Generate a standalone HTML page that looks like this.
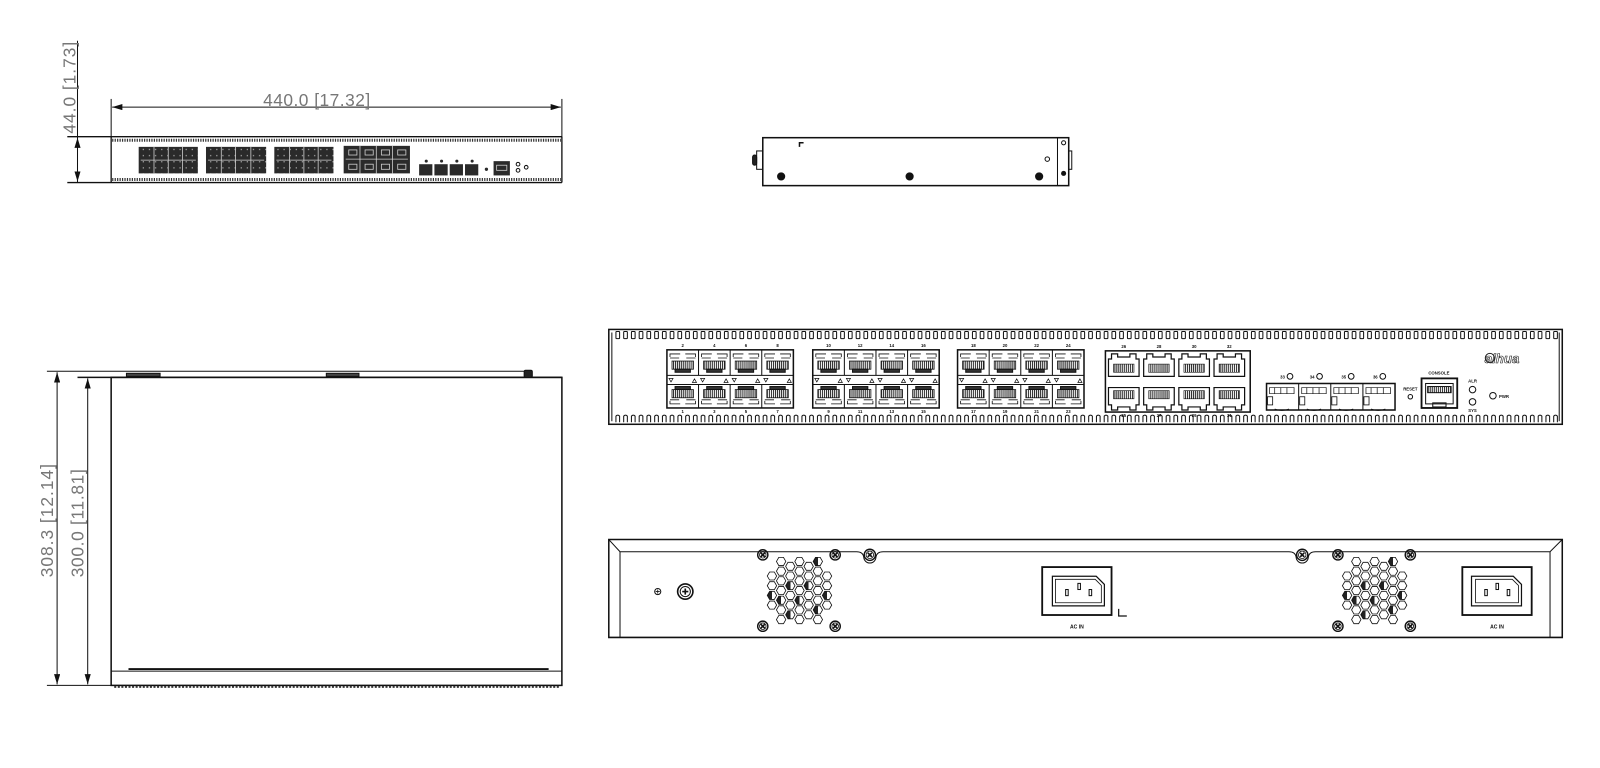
<!DOCTYPE html>
<html><head><meta charset="utf-8"><style>
html,body{margin:0;padding:0;background:#fff;width:1600px;height:768px;overflow:hidden}
svg{display:block}
text{font-family:"Liberation Sans",sans-serif}
</style></head><body>
<svg id="s" width="1600" height="768" viewBox="0 0 1569 753" preserveAspectRatio="none" xmlns="http://www.w3.org/2000/svg">
<defs>
<pattern id="hat" width="2" height="4" patternUnits="userSpaceOnUse"><rect width="2" height="4" fill="#fff"/><rect width="1" height="4" fill="#222"/></pattern>
<pattern id="dk" width="6" height="6" patternUnits="userSpaceOnUse"><rect width="6" height="6" fill="#2a2a2a"/><rect x="2" y="2" width="1.2" height="1.2" fill="#aaa"/></pattern>
<linearGradient id="half" x1="0" y1="0" x2="1" y2="0"><stop offset="0.5" stop-color="#222"/><stop offset="0.5" stop-color="#fff"/></linearGradient>
<marker id="ar" viewBox="0 0 10 6" refX="10" refY="3" markerWidth="10" markerHeight="6" orient="auto-start-reverse" markerUnits="userSpaceOnUse"><path d="M0,0L10,3L0,6z" fill="#111"/></marker>
</defs>
<g id="root" fill="none" stroke="#111" stroke-width="1">
<line x1="109" y1="97" x2="109" y2="135"/>
<line x1="551" y1="97" x2="551" y2="135"/>
<line x1="110" y1="105" x2="550" y2="105" marker-start="url(#ar)" marker-end="url(#ar)"/>
<line x1="66" y1="134" x2="551" y2="134" stroke-width="1.3"/>
<line x1="66" y1="179" x2="551" y2="179" stroke-width="1.3"/>
<line x1="109" y1="134" x2="109" y2="179" stroke-width="1.3"/>
<line x1="551" y1="134" x2="551" y2="179" stroke-width="1.3"/>
<line x1="76" y1="40" x2="76" y2="179"/>
<line x1="76" y1="160" x2="76" y2="135" marker-end="url(#ar)"/>
<line x1="76" y1="160" x2="76" y2="178" marker-end="url(#ar)"/>
<line x1="110" y1="137.5" x2="550" y2="137.5" stroke-width="3" stroke-dasharray="1.2 1.2" stroke="#333"/>
<line x1="110" y1="176" x2="550" y2="176" stroke-width="3" stroke-dasharray="1.2 1.2" stroke="#333"/>
<g fill="url(#dk)" stroke="none">
<rect x="136" y="144" width="58" height="26"/><rect x="202" y="144" width="59" height="26"/><rect x="269" y="144" width="58" height="26"/>
</g>
<g fill="#2a2a2a" stroke="none">
<rect x="337" y="143" width="65" height="27"/>
<rect x="411" y="161" width="13" height="11"/><rect x="426" y="161" width="13" height="11"/><rect x="441" y="161" width="13" height="11"/><rect x="456" y="161" width="13" height="11"/>
<circle cx="418" cy="158" r="1.5"/><circle cx="433" cy="158" r="1.5"/><circle cx="448" cy="158" r="1.5"/><circle cx="463" cy="158" r="1.5"/>
<circle cx="477" cy="166" r="1.6"/>
<rect x="484" y="158" width="16" height="14"/>
</g>
<g stroke="#ccc" stroke-width="0.8">
<line x1="138" y1="157" x2="192" y2="157"/><line x1="204" y1="157" x2="259" y2="157"/><line x1="271" y1="157" x2="325" y2="157"/>
<line x1="151" y1="144" x2="151" y2="170"/><line x1="165" y1="144" x2="165" y2="170"/><line x1="179" y1="144" x2="179" y2="170"/>
<line x1="217" y1="144" x2="217" y2="170"/><line x1="231" y1="144" x2="231" y2="170"/><line x1="246" y1="144" x2="246" y2="170"/>
<line x1="284" y1="144" x2="284" y2="170"/><line x1="298" y1="144" x2="298" y2="170"/><line x1="312" y1="144" x2="312" y2="170"/>
<line x1="339" y1="156" x2="400" y2="156"/><line x1="353" y1="143" x2="353" y2="170"/><line x1="369" y1="143" x2="369" y2="170"/><line x1="385" y1="143" x2="385" y2="170"/>
<rect x="342" y="147" width="8" height="5"/><rect x="358" y="147" width="8" height="5"/><rect x="374" y="147" width="8" height="5"/><rect x="390" y="147" width="8" height="5"/>
<rect x="342" y="161" width="8" height="5"/><rect x="358" y="161" width="8" height="5"/><rect x="374" y="161" width="8" height="5"/><rect x="390" y="161" width="8" height="5"/>
<rect x="487" y="162" width="10" height="5"/>
</g>
<circle cx="508" cy="161" r="1.8"/><circle cx="508" cy="167" r="1.8"/><circle cx="516" cy="164" r="1.8"/>

<rect x="748" y="135" width="300" height="47" stroke-width="1.5"/>
<line x1="1037" y1="135" x2="1037" y2="182"/>
<rect x="742" y="148" width="6" height="18"/>
<rect x="738" y="152" width="4" height="10" rx="2" fill="#222"/>
<rect x="1048" y="148" width="3" height="18"/>
<path d="M784,144 V140 H788" stroke-width="1.5"/>
<g fill="#111" stroke="none"><circle cx="766" cy="173" r="4"/><circle cx="892" cy="173" r="4"/><circle cx="1019" cy="173" r="4"/><circle cx="1043" cy="170" r="2.5"/></g>
<circle cx="1027" cy="156" r="2.2"/><circle cx="1043" cy="140" r="2"/>

<line x1="46" y1="364" x2="516" y2="364"/>
<line x1="76" y1="370" x2="551" y2="370" stroke-width="1.5"/>
<rect x="109" y="370" width="442" height="302" stroke-width="1.5"/>
<line x1="109" y1="658" x2="551" y2="658"/>
<line x1="126" y1="656" x2="538" y2="656" stroke-width="1.8"/>
<line x1="46" y1="672" x2="109" y2="672"/>
<line x1="112" y1="673.5" x2="548" y2="673.5" stroke-width="2" stroke-dasharray="2 1.5" stroke="#333"/>
<rect x="124" y="366" width="33" height="3" fill="#444"/>
<rect x="320" y="366" width="32" height="3" fill="#444"/>
<rect x="514" y="363" width="8" height="7" rx="1.5" fill="#222"/>
<line x1="56" y1="365" x2="56" y2="671" marker-start="url(#ar)" marker-end="url(#ar)"/>
<line x1="86" y1="371" x2="86" y2="671" marker-start="url(#ar)" marker-end="url(#ar)"/>

<rect x="597" y="323" width="935" height="93" stroke-width="1.5"/>
<line x1="600" y1="326" x2="600" y2="413"/>
<line x1="1529" y1="326" x2="1529" y2="413"/>
<g id="vents"></g>
<g id="sfpg"></g>
<g id="rj"></g>
<rect x="1242" y="376" width="126" height="26" stroke-width="1.5"/>
<g id="sfp4"></g>
<g stroke-width="1"><circle cx="1265" cy="369" r="2.8"/><circle cx="1294" cy="369" r="2.8"/><circle cx="1325" cy="369" r="2.8"/><circle cx="1356" cy="369" r="2.8"/>
<circle cx="1383" cy="389" r="2.2"/>
<rect x="1394" y="371" width="35" height="29" stroke-width="1.8"/>
<rect x="1398" y="376" width="27" height="20"/>
<rect x="1400" y="379" width="23" height="6" fill="url(#hat)"/>
<rect x="1405" y="395" width="13" height="4"/>
<circle cx="1444" cy="382" r="3.2"/><circle cx="1444" cy="394" r="3.2"/><circle cx="1464" cy="388" r="3.2"/></g>
<g fill="#111" stroke="none" font-weight="bold" font-size="4.2">
<text x="1260" y="371" text-anchor="end">33</text><text x="1289" y="371" text-anchor="end">34</text><text x="1320" y="371" text-anchor="end">35</text><text x="1351" y="371" text-anchor="end">36</text>
<text x="1383" y="383" text-anchor="middle">RESET</text>
<text x="1411" y="367" text-anchor="middle">CONSOLE</text>
<text x="1444" y="375" text-anchor="middle">ALR</text>
<text x="1444" y="404" text-anchor="middle">SYS</text>
<text x="1470" y="390">PWR</text>
</g>
<text x="1456" y="356" font-size="13" font-style="italic" font-weight="bold" fill="#fff" stroke="#222" stroke-width="0.6">alhua</text>
<circle cx="1461" cy="351" r="4.5" stroke="#222"/>

<path d="M597,529 H1532 V625 H597 Z" stroke-width="1.5"/>
<path d="M597,529 L608,541 H840 Q846,541 847,546 A6,6 0 0 0 859,546 Q860,541 866,541 H1264 Q1270,541 1271,546 A6,6 0 0 0 1283,546 Q1284,541 1290,541 H1520 L1532,529" stroke-width="1"/>
<line x1="608" y1="541" x2="608" y2="625"/>
<line x1="1520" y1="541" x2="1520" y2="625"/>
<g id="rear"></g>
<rect x="1022" y="556" width="68" height="47" stroke-width="1.8"/>
<path d="M1032,565 H1075 L1083,573 V594 H1032 Z" stroke-width="1.2"/>
<path d="M1035,568 H1074 L1080,574 V591 H1035 Z" stroke-width="0.8"/>
<rect x="1045" y="578" width="2.5" height="6"/><rect x="1057" y="572" width="2.5" height="6"/><rect x="1068" y="578" width="2.5" height="6"/>
<path d="M1097,597 V604 H1105" stroke-width="1.2"/>
<rect x="1434" y="556" width="68" height="47" stroke-width="1.8"/>
<path d="M1443,565 H1484 L1492,573 V594 H1443 Z" stroke-width="1.2"/>
<path d="M1447,568 H1483 L1489,574 V591 H1447 Z" stroke-width="0.8"/>
<rect x="1456" y="578" width="2.5" height="6"/><rect x="1467" y="572" width="2.5" height="6"/><rect x="1478" y="578" width="2.5" height="6"/>
<g fill="#111" stroke="none" font-weight="bold" font-size="5">
<text x="1056" y="616" text-anchor="middle">AC IN</text>
<text x="1468" y="616" text-anchor="middle">AC IN</text>
</g>
</g>
<text x="258" y="104" font-size="17" fill="#777" textLength="105">440.0  [17.32]</text>
<text transform="translate(74,131) rotate(-90)" font-size="17" fill="#777" textLength="90">44.0  [1.73]</text>
<text transform="translate(52,566) rotate(-90)" font-size="17" fill="#777" textLength="111">308.3  [12.14]</text>
<text transform="translate(82,566) rotate(-90)" font-size="17" fill="#777" textLength="106">300.0  [11.81]</text>
</svg>
<script>
function h(id,s){document.getElementById(id).innerHTML+=s;}
var v="";
for(var x=604;x<1526;x+=7.6){
 v+='<rect x="'+x.toFixed(1)+'" y="325" width="3.6" height="7" rx="0.6"/>';
 v+='<path d="M'+x.toFixed(1)+',414 V408 Q'+(x+1.8).toFixed(1)+',406 '+(x+3.6).toFixed(1)+',408 V414"/>';
}
h("vents",v);
var gx=[654,797,939],labsT=[[2,4,6,8],[10,12,14,16],[18,20,22,24]],labsB=[[1,3,5,7],[9,11,13,15],[17,19,21,23]];
var s="";
for(var g=0;g<3;g++){
 var x0=gx[g],w=31;
 s+='<rect x="'+x0+'" y="343" width="124" height="57" stroke-width="1.5"/>';
 s+='<line x1="'+x0+'" y1="368" x2="'+(x0+124)+'" y2="368"/><line x1="'+x0+'" y1="377" x2="'+(x0+124)+'" y2="377"/>';
 for(var c=0;c<4;c++){
  var cx=x0+c*w;
  if(c>0) s+='<line x1="'+cx+'" y1="343" x2="'+cx+'" y2="368"/><line x1="'+cx+'" y1="377" x2="'+cx+'" y2="400"/>';
  s+='<path d="M'+(cx+3)+',350 V347 H'+(cx+13)+' M'+(cx+28)+',350 V347 H'+(cx+18)+' M'+(cx+3)+',351 H'+(cx+12)+' M'+(cx+19)+',351 H'+(cx+28)+'" stroke-width="0.8"/>';
  s+='<rect x="'+(cx+5)+'" y="354" width="21" height="8" fill="url(#hat)" stroke-width="0.8"/><rect x="'+(cx+8)+'" y="362" width="15" height="3" fill="#333"/>';
  s+='<rect x="'+(cx+8)+'" y="379" width="15" height="3" fill="#333"/><rect x="'+(cx+5)+'" y="382" width="21" height="8" fill="url(#hat)" stroke-width="0.8"/>';
  s+='<path d="M'+(cx+3)+',393 V396 H'+(cx+13)+' M'+(cx+28)+',393 V396 H'+(cx+18)+' M'+(cx+3)+',392 H'+(cx+12)+' M'+(cx+19)+',392 H'+(cx+28)+'" stroke-width="0.8"/>';
  s+='<path d="M'+(cx+2)+',371 h4 l-2,3.5z M'+(cx+25)+',375 h4 l-2,-3.5z" stroke-width="0.7"/>';
  s+='<text x="'+(cx+15.5)+'" y="340" font-size="4.2" font-weight="bold" fill="#111" stroke="none" text-anchor="middle">'+labsT[g][c]+'</text>';
  s+='<text x="'+(cx+15.5)+'" y="405" font-size="4.2" font-weight="bold" fill="#111" stroke="none" text-anchor="middle">'+labsB[g][c]+'</text>';
 }
}
h("sfpg",s);
var r='<rect x="1084" y="344" width="142" height="60" stroke-width="1.5"/>';
var tl=[26,28,30,32],bl=[25,27,29,31];
for(var c=0;c<4;c++){
 var px=1087+c*34.5;
 r+='<path d="M'+(px+3)+',347 h6 v3 h12 v-3 h6 v5 h3 v17 h-30 v-17 h3z" stroke-width="1.2"/>';
 r+='<rect x="'+(px+5)+'" y="357" width="20" height="8" fill="url(#hat)" stroke-width="0.6"/>';
 r+='<path d="M'+(px+3)+',402 h6 v-3 h12 v3 h6 v-5 h3 v-17 h-30 v17 h3z" stroke-width="1.2"/>';
 r+='<rect x="'+(px+5)+'" y="383" width="20" height="8" fill="url(#hat)" stroke-width="0.6"/>';
 r+='<text x="'+(px+15)+'" y="341" font-size="4.2" font-weight="bold" fill="#111" stroke="none" text-anchor="middle">'+tl[c]+'</text>';
 r+='<text x="'+(px+15)+'" y="409" font-size="4.2" font-weight="bold" fill="#111" stroke="none" text-anchor="middle">'+bl[c]+'</text>';
}
h("rj",r);
var f="";
for(var c=0;c<4;c++){
 var px=1242+c*31.5;
 if(c>0) f+='<line x1="'+px+'" y1="376" x2="'+px+'" y2="402"/>';
 f+='<path d="M'+(px+3)+',380 h24 v6 h-24z M'+(px+8)+',380 v6 M'+(px+14)+',380 v6 M'+(px+20)+',380 v6" stroke-width="0.7"/>';
 f+='<rect x="'+(px+1)+'" y="389" width="5" height="8" stroke-width="0.8"/>';
 f+='<path d="M'+(px+8)+',401 q7,3 14,0" stroke-width="0.8"/>';
}
h("sfp4",f);
function screw(x,y,r){return '<circle cx="'+x+'" cy="'+y+'" r="'+r+'" stroke-width="1.4"/><circle cx="'+x+'" cy="'+y+'" r="'+(r-1.8)+'" stroke-width="0.8"/><path d="M'+(x-2)+','+(y-2)+' l4,4 M'+(x+2)+','+(y-2)+' l-4,4" stroke-width="1.6"/>';}
var q="";
q+=screw(853,544,5.5)+screw(1277,544,5.5);
var dark=[3,9,14,17,22,27,31,36,40];
[[784,579],[1348,579]].forEach(function(c){
 var cx=c[0],cy=c[1];
 q+=screw(cx-36,cy-35,5)+screw(cx+35,cy-35,5)+screw(cx-36,cy+35,5)+screw(cx+35,cy+35,5);
 var k=0;
 for(var i=-4;i<=4;i++){for(var j=-4;j<=4;j++){
  var hx=cx+i*9, hy=cy+j*9.5+(i%2?4.75:0);
  if(Math.hypot(hx-cx,hy-cy)>34)continue;
  k++;
  var fill=dark.indexOf(k)>=0?'url(#half)':'#fff';
  var p="";
  for(var a=0;a<6;a++){var an=Math.PI/3*a;p+=(a?'L':'M')+(hx+4.6*Math.cos(an)).toFixed(1)+','+(hy+4.6*Math.sin(an)).toFixed(1);}
  q+='<path d="'+p+'Z" fill="'+fill+'" stroke-width="0.8"/>';
 }}
});
q+='<circle cx="645" cy="580" r="3" stroke-width="1"/><path d="M643,580h4M645,578v4" stroke-width="0.8"/>';
q+='<circle cx="672" cy="580" r="7.5" stroke-width="1.6"/><circle cx="672" cy="580" r="5" stroke-width="1"/><path d="M669,580h6M672,577v6" stroke-width="1.6"/>';
h("rear",q);
</script>
</body></html>
